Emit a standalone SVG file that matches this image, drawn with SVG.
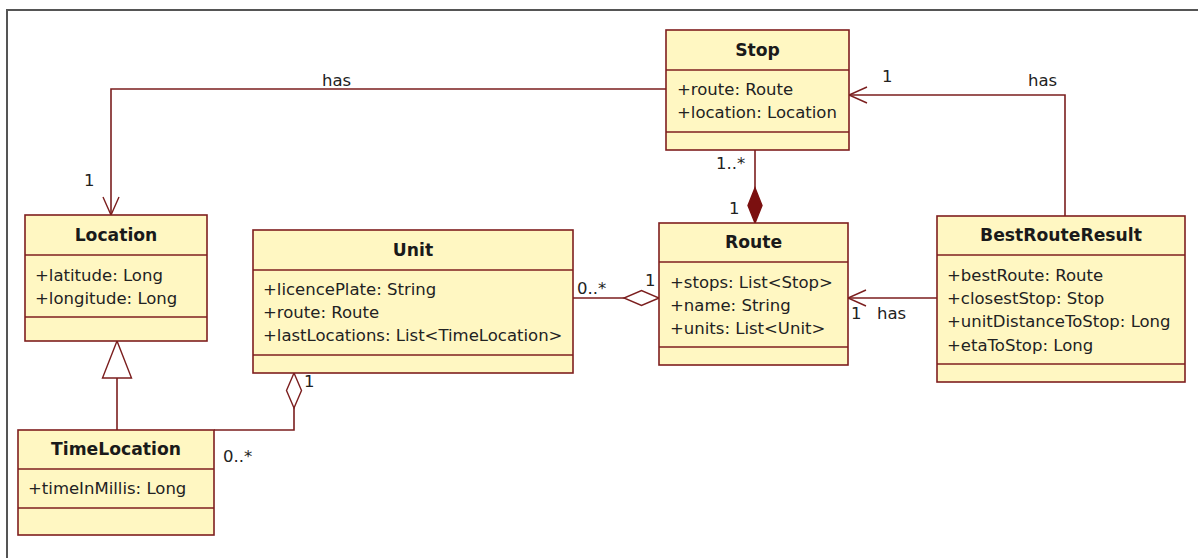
<svg xmlns="http://www.w3.org/2000/svg" width="1198" height="558" viewBox="0 0 1198 558">
<style>
.box{fill:#FFF7C2;stroke:#7F1F1F;stroke-width:1.6}
.dv{stroke:#7F1F1F;stroke-width:1.6}
.title{font-family:"DejaVu Sans",sans-serif;font-weight:bold;font-size:17.2px;text-anchor:middle;fill:#1a1a1a}
.attr{font-family:"DejaVu Sans",sans-serif;font-size:16.5px;fill:#222}
.lbl{font-family:"DejaVu Sans",sans-serif;font-size:16.5px;fill:#222}
.conn{fill:none;stroke:#7B1E1E;stroke-width:1.6}
.frame{fill:none;stroke:#555;stroke-width:2}
</style>
<defs>
<marker id="open" viewBox="-22 -11 24 22" refX="0" refY="0" markerWidth="24" markerHeight="22" markerUnits="userSpaceOnUse" orient="auto" overflow="visible">
<path d="M-18,-8 L0,0 L-18,8" fill="none" stroke="#7B1E1E" stroke-width="1.4"/>
</marker>
<marker id="tri" viewBox="-40 -16 42 32" refX="0" refY="0" markerWidth="42" markerHeight="32" markerUnits="userSpaceOnUse" orient="auto" overflow="visible">
<path d="M0,0 L-37,-14.5 L-37,14.5 Z" fill="#fff" stroke="#7B1E1E" stroke-width="1.4"/>
</marker>
<marker id="hdia" viewBox="-2 -10 40 20" refX="0" refY="0" markerWidth="40" markerHeight="20" markerUnits="userSpaceOnUse" orient="auto" overflow="visible">
<path d="M0,0 L17.5,-7.5 L35,0 L17.5,7.5 Z" fill="#fff" stroke="#7B1E1E" stroke-width="1.4"/>
</marker>
<marker id="fdia" viewBox="-2 -10 40 20" refX="0" refY="0" markerWidth="40" markerHeight="20" markerUnits="userSpaceOnUse" orient="auto" overflow="visible">
<path d="M0,0 L17.5,-7 L35,0 L17.5,7 Z" fill="#7B1010" stroke="#7B1010" stroke-width="1.4"/>
</marker>
</defs>
<rect width="1198" height="558" fill="#fff"/>
<path class="frame" d="M7,558 V10 H1198"/>

<g id="connectors">
<path class="conn" d="M666,89 H111 V215" marker-end="url(#open)"/>
<text class="lbl" x="322" y="86">has</text>
<text class="lbl" x="84" y="186">1</text>

<path class="conn" d="M1065,216 V95 H849" marker-end="url(#open)"/>
<text class="lbl" x="882" y="82">1</text>
<text class="lbl" x="1028" y="86">has</text>

<path class="conn" d="M755,223 V150" marker-start="url(#fdia)"/>
<text class="lbl" x="716" y="169">1..*</text>
<text class="lbl" x="729" y="214">1</text>

<path class="conn" d="M659,298 H573" marker-start="url(#hdia)"/>
<text class="lbl" x="577" y="294">0..*</text>
<text class="lbl" x="645" y="286">1</text>

<path class="conn" d="M937,298 H848" marker-end="url(#open)"/>
<text class="lbl" x="851" y="319">1</text>
<text class="lbl" x="877" y="319">has</text>

<path class="conn" d="M117,430 V341" marker-end="url(#tri)"/>

<path class="conn" d="M294,373 V430 H214" marker-start="url(#hdia)"/>
<text class="lbl" x="304" y="387">1</text>
<text class="lbl" x="223" y="462">0..*</text>
</g>

<g id="node-stop">
<rect class="box" x="666" y="30" width="183" height="120"/>
<line class="dv" x1="666" y1="70" x2="849" y2="70"/>
<line class="dv" x1="666" y1="132" x2="849" y2="132"/>
<text class="title" x="757.5" y="56">Stop</text>
<text class="attr" x="677" y="95">+route: Route</text>
<text class="attr" x="677" y="118">+location: Location</text>
</g>

<g id="node-location">
<rect class="box" x="25" y="215" width="182" height="126"/>
<line class="dv" x1="25" y1="255" x2="207" y2="255"/>
<line class="dv" x1="25" y1="317" x2="207" y2="317"/>
<text class="title" x="116" y="241">Location</text>
<text class="attr" x="35" y="281">+latitude: Long</text>
<text class="attr" x="35" y="304">+longitude: Long</text>
</g>

<g id="node-unit">
<rect class="box" x="253" y="230" width="320" height="143"/>
<line class="dv" x1="253" y1="270" x2="573" y2="270"/>
<line class="dv" x1="253" y1="355" x2="573" y2="355"/>
<text class="title" x="413" y="256">Unit</text>
<text class="attr" x="263" y="295">+licencePlate: String</text>
<text class="attr" x="263" y="318">+route: Route</text>
<text class="attr" x="263" y="341">+lastLocations: List&lt;TimeLocation&gt;</text>
</g>

<g id="node-route">
<rect class="box" x="659" y="223" width="189" height="142"/>
<line class="dv" x1="659" y1="262" x2="848" y2="262"/>
<line class="dv" x1="659" y1="347" x2="848" y2="347"/>
<text class="title" x="753.5" y="248">Route</text>
<text class="attr" x="670" y="288">+stops: List&lt;Stop&gt;</text>
<text class="attr" x="670" y="311">+name: String</text>
<text class="attr" x="670" y="334">+units: List&lt;Unit&gt;</text>
</g>

<g id="node-bestrouteresult">
<rect class="box" x="937" y="216" width="248" height="166"/>
<line class="dv" x1="937" y1="255" x2="1185" y2="255"/>
<line class="dv" x1="937" y1="364" x2="1185" y2="364"/>
<text class="title" x="1061" y="241">BestRouteResult</text>
<text class="attr" x="947" y="281">+bestRoute: Route</text>
<text class="attr" x="947" y="304">+closestStop: Stop</text>
<text class="attr" x="947" y="327">+unitDistanceToStop: Long</text>
<text class="attr" x="947" y="351">+etaToStop: Long</text>
</g>

<g id="node-timelocation">
<rect class="box" x="18" y="430" width="196" height="105"/>
<line class="dv" x1="18" y1="469" x2="214" y2="469"/>
<line class="dv" x1="18" y1="508" x2="214" y2="508"/>
<text class="title" x="116" y="455">TimeLocation</text>
<text class="attr" x="28" y="494">+timeInMillis: Long</text>
</g>
</svg>
